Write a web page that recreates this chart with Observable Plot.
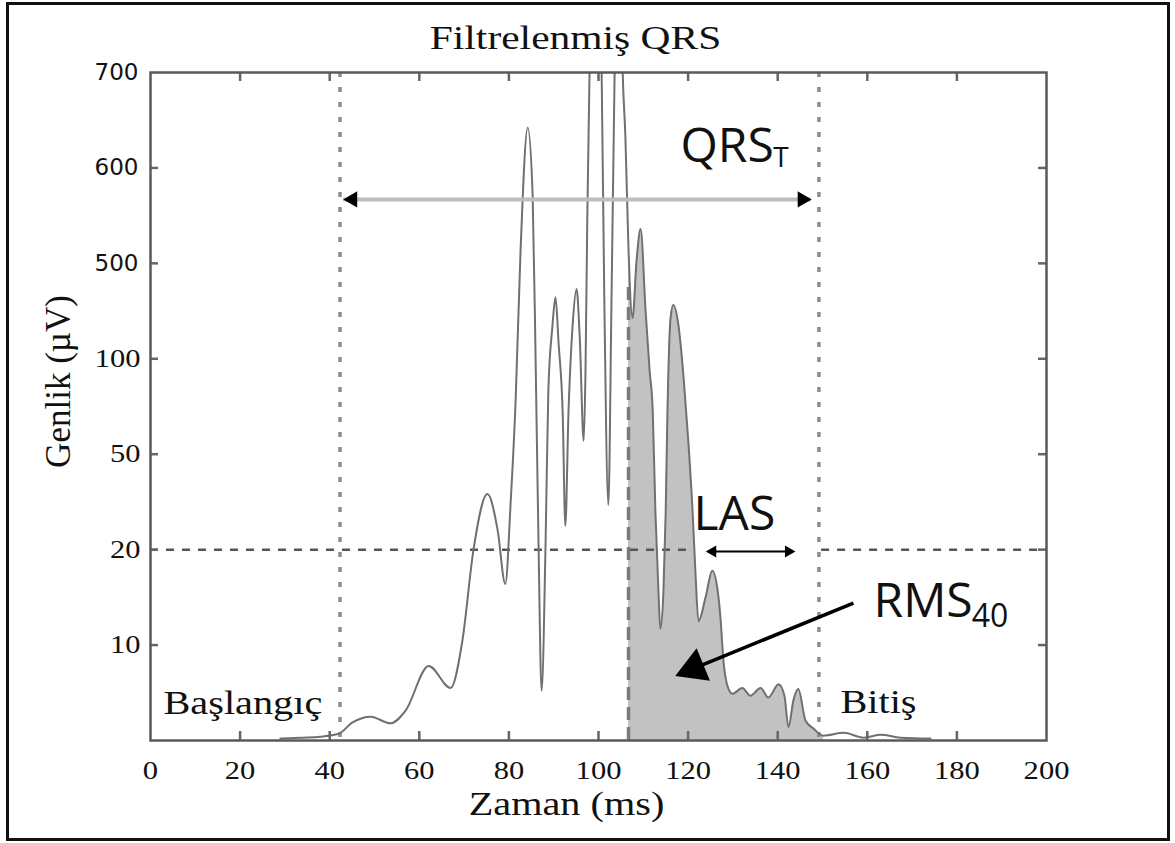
<!DOCTYPE html>
<html><head><meta charset="utf-8">
<script src="https://cdn.jsdelivr.net/npm/d3@7"></script>
<script src="https://cdn.jsdelivr.net/npm/@observablehq/plot@0.6"></script>
<style>
body{margin:0;background:#fff;}
#wrap{position:relative;width:1175px;height:843px;overflow:hidden;background:#fff;}
#border{position:absolute;left:6px;top:2px;width:1164px;height:839px;border:3px solid #111;box-sizing:border-box;pointer-events:none;}
</style></head><body><div id="wrap"><div id="border"></div></div>
<script>
// ---- data (time in ms, amplitude in µV) ----
const timeMs = [29.0,33.5,37.9,42.0,45.1,49.1,53.6,56.9,62.1,67.0,69.6,72.1,75.2,77.5,79.2,80.4,81.5,82.6,84.2,85.3,86.0,86.6,87.3,88.2,88.8,89.7,90.4,91.1,92.0,92.6,93.3,94.2,95.1,95.8,96.7,97.1,97.5,98.0,99.3,100.7,101.3,102.2,102.9,103.6,104.5,105.4,106.0,106.7,107.6,108.5,109.4,110.5,111.4,112.1,112.7,113.4,113.8,114.5,115.0,115.4,116.1,116.7,117.9,119.0,120.1,121.0,121.7,122.3,123.9,125.4,126.6,127.2,127.9,128.8,129.9,132.1,133.9,136.2,137.9,140.2,141.5,142.4,143.5,144.6,146.2,148.0,150.2,154.7,159.2,163.0,167.4,174.1];
const amplitude = [0.2,0.3,0.4,0.7,1.9,2.5,1.8,3.1,7.8,5.5,10.4,20,37.5,26,16.4,35,78,513,642,571,94,23,5.2,23,83,233,358,162,72,27.5,72,233,392,196,57,94,548,700,950,700,346,34,346,700,950,700,633,514,271,503,536,304,94,73,32,15.4,11.7,15.7,32,73,275,325,233,90,55,32,17,12.5,15,17.8,15.7,13,8.3,5.7,4.9,5.5,4.7,5.5,4.5,5.9,4.7,1.4,4.2,5.4,2.1,1.25,0.5,0.8,0.3,0.6,0.3,0.2];

const yLevels = [0,10,20,50,100,500,600,700];
const yTicksSerif = [10,20,50,100];
const yTicksSans = [500,600,700];
const yInnerTicks = [10,20,50,100,500,600];
const xTicks = [0,20,40,60,80,100,120,140,160,180,200];
const xInnerTicks = [20,40,60,80,100,120,140,160,180];

const onsetOffsetMs = [42.3, 149.2];
const lasStartMs = [106.7];
const lasDashTop = 400;
const thresholdUv = [20];
const thresholdSegments = [[0, 120.2], [149.8, 200]];

const qrsArrowX = [43.1, 147.5];
const qrsArrowY = 567;
const qrsHeads = [{t: 45.1, v: 567, rot: -90}, {t: 145.5, v: 567, rot: 90}];
const lasArrowX = [125.5, 142.4];
const lasArrowY = 19.8;
const lasHeads = [{t: 125.5, v: 19.8, rot: -90}, {t: 142.4, v: 19.8, rot: 90}];
const rmsArrow = [{t1: 156.9, v1: 14.4, t2: 121.3, v2: 7.56}];
const rmsHead = [{t: 121.3, v: 7.56, rot: 247.7}];

const title = "Filtrelenmiş QRS";
const xLabel = "Zaman (ms)";
const yLabel = "Genlik (µV)";
const sansLabels = [{text: "QRS", t: 118.3, v: 622}, {text: "LAS", t: 121.2, v: 30.9}, {text: "RMS", t: 161.4, v: 14.6}];
const subT = [{text: "T", t: 139.0, v: 610.5}];
const sub40 = [{text: "40", t: 183.3, v: 13.0}];
const serifLabels = [{text: "Başlangıç", t: 2.9, v: 3.85}, {text: "Bitiş", t: 154, v: 3.96}];

// ---- chart ----
const W = 1175, H = 843, mT = 72, mB = 103, mL = 150, mR = 129;
const pw = W - mL - mR, ph = H - mT - mB;
const signal = timeMs.map((t, i) => ({t, v: amplitude[i]}));
const shaded = signal.filter(d => d.t >= lasStartMs[0] && d.t <= 150.2);
const yRange = yLevels.map((_, i) => (H - mB) - i * ph / (yLevels.length - 1));
const SERIF = "Liberation Serif";
const SANS = "Open Sans";

const chart = Plot.plot({
  width: W, height: H,
  marginTop: mT, marginBottom: mB, marginLeft: mL, marginRight: mR,
  style: {background: "#fff", color: "#111"},
  x: {type: "linear", domain: [0, 200]},
  y: {type: "linear", domain: yLevels, range: yRange},
  marks: [
    Plot.areaY(shaded, {x: "t", y1: 0, y2: "v", fill: "#c2c2c2", curve: "monotone-x"}),
    Plot.ruleX(lasStartMs, {y1: 0, y2: lasDashTop, stroke: "#7a7a7a", strokeWidth: 3.5, strokeDasharray: "13,7"}),
    Plot.ruleX(onsetOffsetMs, {stroke: "#8c8c8c", strokeWidth: 3.5, strokeDasharray: "5,10"}),
    ...thresholdSegments.map(s => Plot.ruleY(thresholdUv, {x1: s[0], x2: s[1], stroke: "#555", strokeWidth: 2.5, strokeDasharray: "8,8"})),
    Plot.line(signal, {x: "t", y: "v", stroke: "#707070", strokeWidth: 2, curve: "monotone-x", clip: true}),
    Plot.ruleY([qrsArrowY], {x1: qrsArrowX[0], x2: qrsArrowX[1], stroke: "#bdbdbd", strokeWidth: 4}),
    Plot.dot(qrsHeads, {x: "t", y: "v", rotate: "rot", symbol: "triangle", r: 6, fill: "#000", stroke: null}),
    Plot.ruleY([lasArrowY], {x1: lasArrowX[0], x2: lasArrowX[1], stroke: "#000", strokeWidth: 2}),
    Plot.dot(lasHeads, {x: "t", y: "v", rotate: "rot", symbol: "triangle", r: 4.5, fill: "#000", stroke: null}),
    Plot.link(rmsArrow, {x1: "t1", y1: "v1", x2: "t2", y2: "v2", stroke: "#000", strokeWidth: 3.5}),
    Plot.dot(rmsHead, {x: "t", y: "v", rotate: "rot", symbol: "triangle", r: 13, fill: "#000", stroke: null}),
    // inward ticks
    Plot.ruleX(xInnerTicks, {insetTop: ph - 9, stroke: "#666", strokeWidth: 2.5}),
    Plot.ruleX(xInnerTicks, {insetBottom: ph - 9, stroke: "#666", strokeWidth: 2.5}),
    Plot.ruleY(yInnerTicks, {insetRight: pw - 8, stroke: "#666", strokeWidth: 2.5}),
    Plot.ruleY(yInnerTicks, {insetLeft: pw - 8, stroke: "#666", strokeWidth: 2.5}),
    Plot.frame({stroke: "#5a5a5a", strokeWidth: 2.5}),
    // axes
    Plot.axisX(xTicks, {anchor: "bottom", tickSize: 0, tickPadding: 21, fontSize: 25, fontFamily: SERIF, label: null}),
    Plot.axisY(yTicksSerif, {anchor: "left", tickSize: 0, tickPadding: 10, fontSize: 25, fontFamily: SERIF, label: null}),
    Plot.axisY(yTicksSans, {anchor: "left", tickSize: 0, tickPadding: 12, fontSize: 23, fontFamily: "DejaVu Sans", label: null}),
    // titles
    Plot.text([title], {frameAnchor: "top", lineAnchor: "middle", textAnchor: "middle", dy: -34, dx: -23, fontSize: 34, fontFamily: SERIF, fill: "#111"}),
    Plot.text([xLabel], {frameAnchor: "bottom", lineAnchor: "middle", textAnchor: "middle", dy: 64, dx: -32, fontSize: 33, fontFamily: SERIF, fill: "#111"}),
    Plot.text([yLabel], {frameAnchor: "left", lineAnchor: "middle", textAnchor: "middle", dx: -92, dy: -25, rotate: -90, fontSize: 35, fontFamily: SERIF, fill: "#111"}),
    // annotations
    Plot.text(serifLabels, {x: "t", y: "v", text: "text", textAnchor: "start", fontSize: 33, fontFamily: SERIF, fill: "#111"}),
    Plot.text(sansLabels, {x: "t", y: "v", text: "text", textAnchor: "start", fontSize: 48, fontFamily: SANS, fill: "#111"}),
    Plot.text(subT, {x: "t", y: "v", text: "text", textAnchor: "start", fontSize: 28, fontFamily: SANS, fill: "#111"}),
    Plot.text(sub40, {x: "t", y: "v", text: "text", textAnchor: "start", fontSize: 32, fontFamily: SANS, fill: "#111"})
  ]
});
document.getElementById("wrap").appendChild(chart);

// horizontal stretch of the serif (original figure) text
chart.querySelectorAll("text").forEach(t => {
  const ff = getComputedStyle(t).fontFamily;
  if (!/Liberation Serif/.test(ff)) return;
  if ((t.getAttribute("transform") || "").includes("rotate")) return;
  const len = t.getComputedTextLength();
  t.setAttribute("textLength", (len * 1.22).toFixed(1));
  t.setAttribute("lengthAdjust", "spacingAndGlyphs");
});
</script></body></html>
